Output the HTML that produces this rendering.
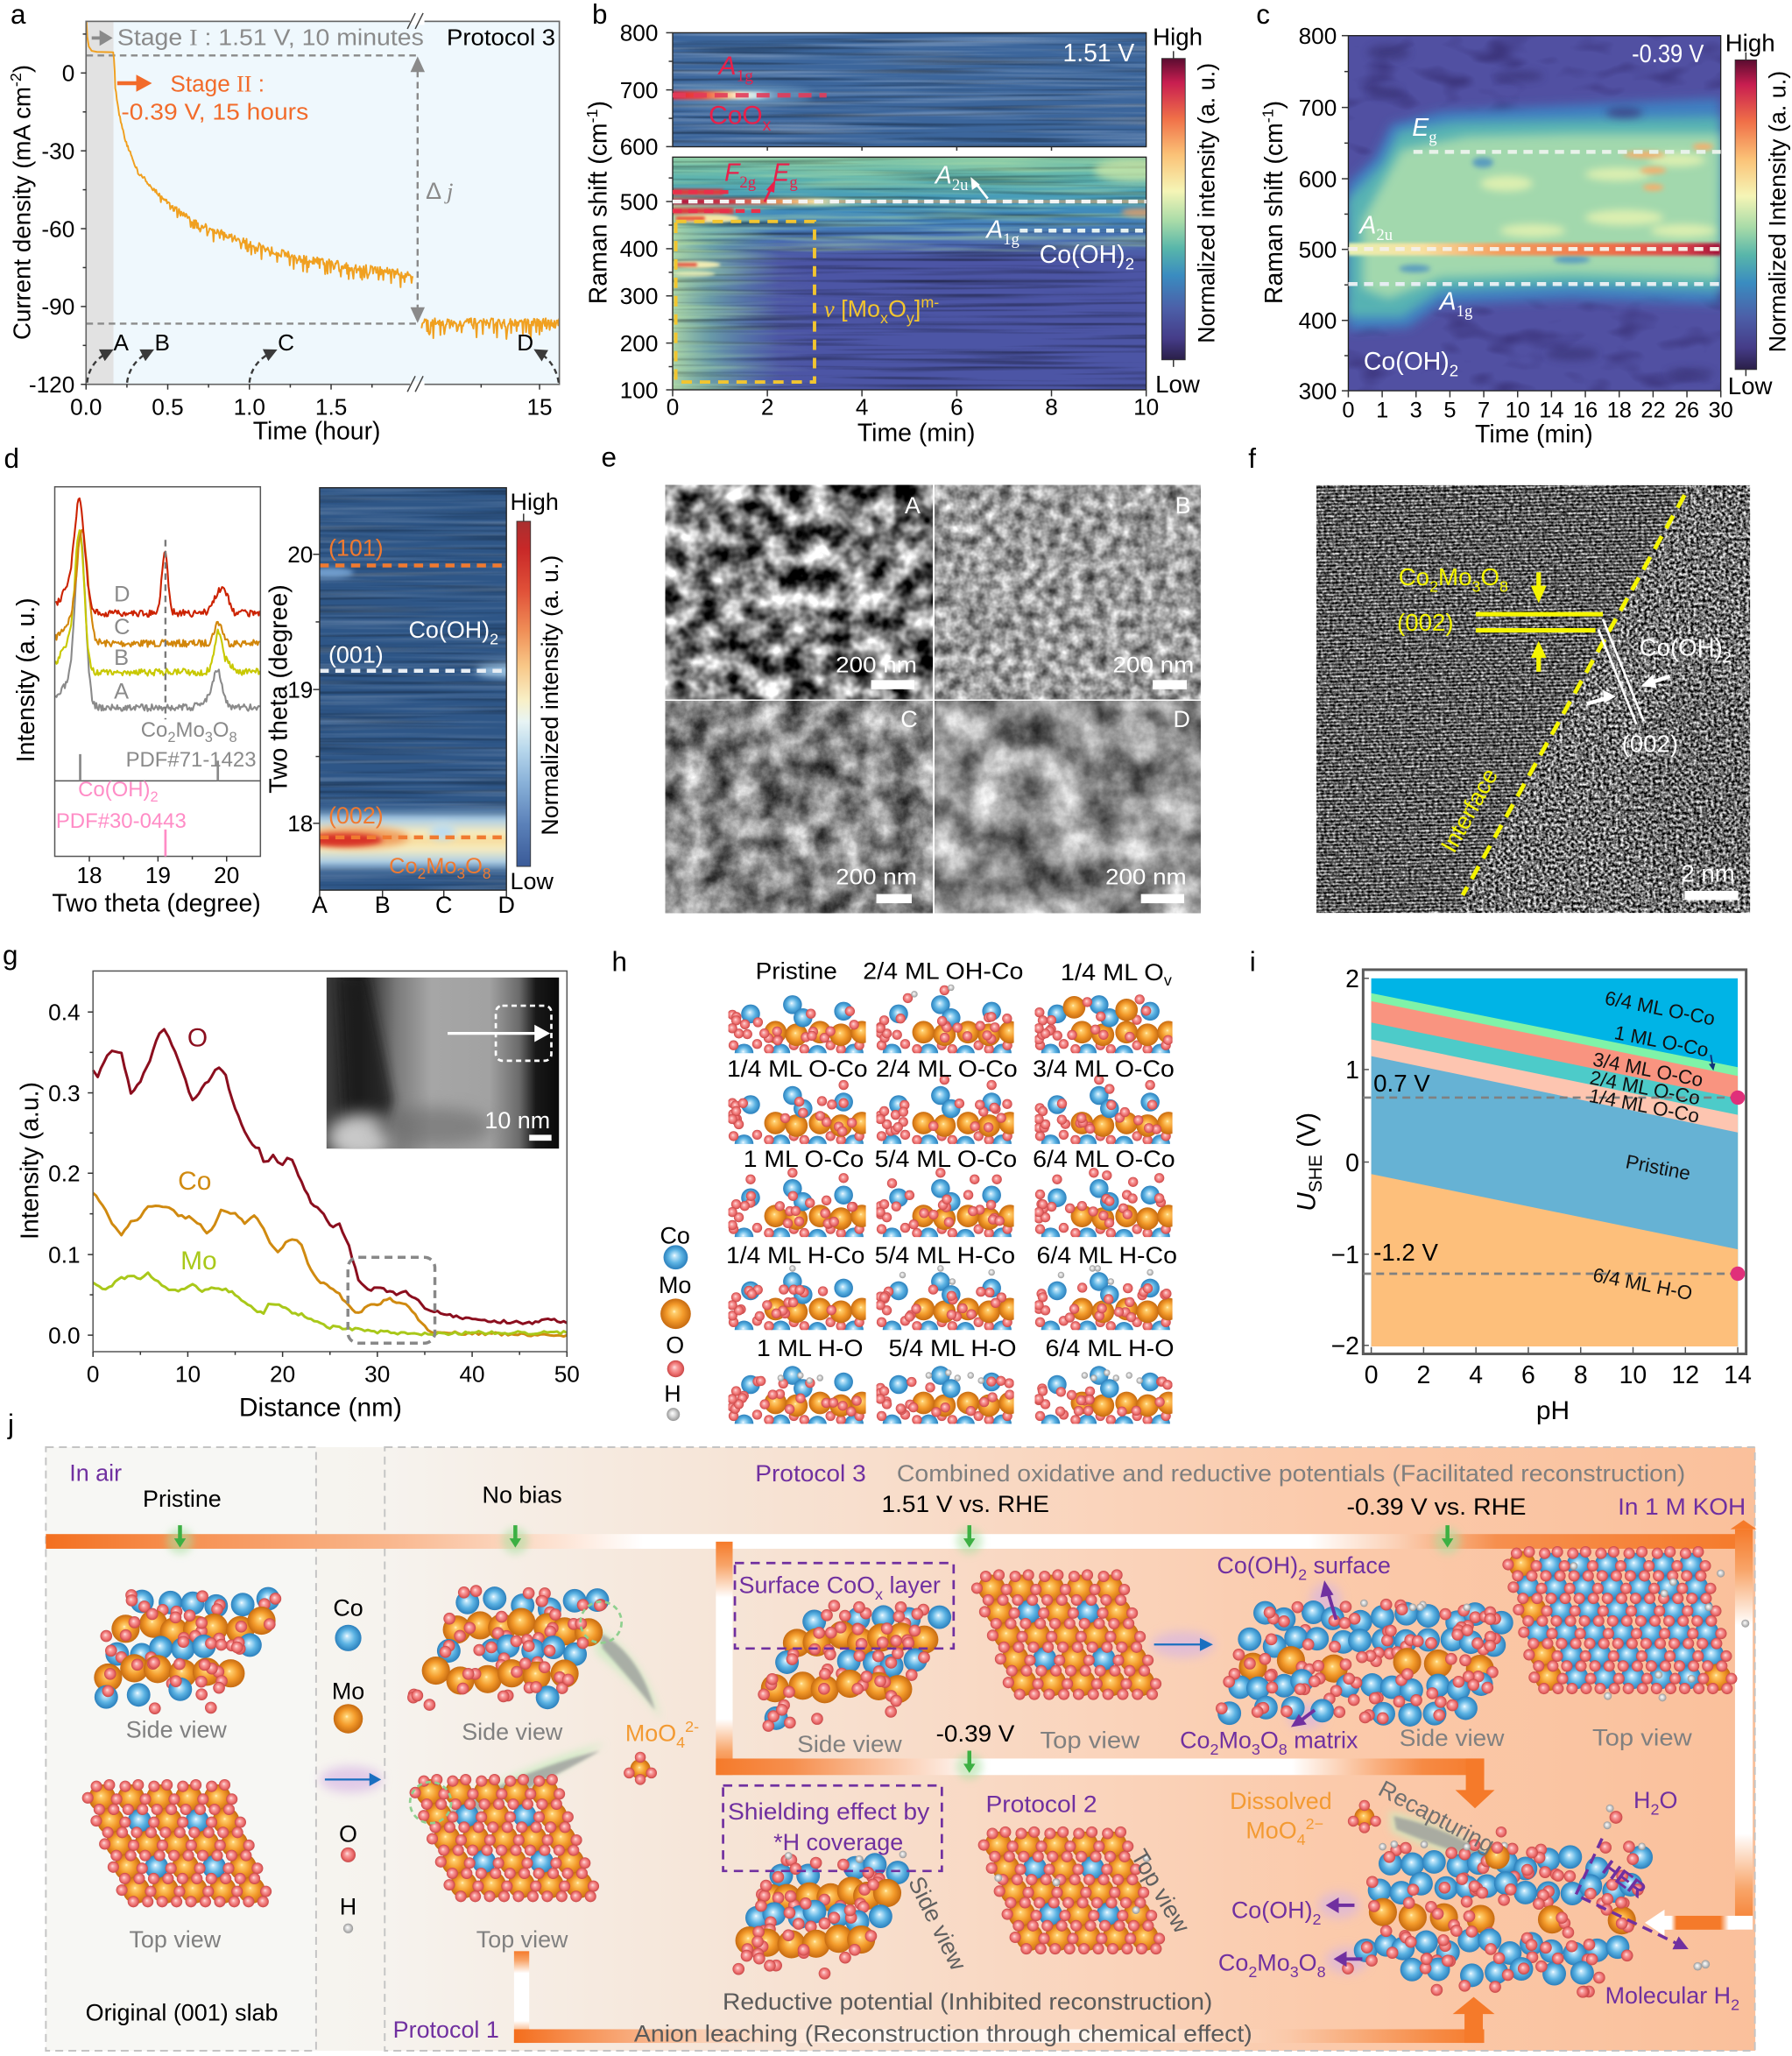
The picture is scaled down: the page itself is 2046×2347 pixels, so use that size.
<!DOCTYPE html>
<html><head><meta charset="utf-8"><title>figure</title>
<style>
html,body{margin:0;padding:0;background:#fff;width:2046px;height:2347px;overflow:hidden}
svg{display:block}
text{font-family:"Liberation Sans",Arial,sans-serif}
.sf{font-family:"Liberation Serif",serif}
</style></head><body>
<svg id="S" xmlns="http://www.w3.org/2000/svg" width="2046" height="2347" viewBox="0 0 1368 1569" preserveAspectRatio="none">
<defs id="defs">
<radialGradient id="gCo" cx=".5" cy=".5" r=".5" fx=".45" fy=".42"><stop offset="0" stop-color="#ffffff"/><stop offset=".12" stop-color="#c4e8fb"/><stop offset=".55" stop-color="#5cb3e3"/><stop offset="1" stop-color="#2a7fbc"/></radialGradient>
<radialGradient id="gMo" cx=".5" cy=".5" r=".5" fx=".45" fy=".42"><stop offset="0" stop-color="#fff6cc"/><stop offset=".12" stop-color="#ffcf6e"/><stop offset=".55" stop-color="#f39a2a"/><stop offset="1" stop-color="#c66a10"/></radialGradient>
<radialGradient id="gO" cx=".5" cy=".5" r=".5" fx=".42" fy=".4"><stop offset="0" stop-color="#ffe2e2"/><stop offset=".3" stop-color="#f8a0a0"/><stop offset=".7" stop-color="#ec6c6c"/><stop offset="1" stop-color="#c64646"/></radialGradient>
<radialGradient id="gH" cx=".5" cy=".5" r=".5" fx=".42" fy=".4"><stop offset="0" stop-color="#ffffff"/><stop offset=".45" stop-color="#d8d8d8"/><stop offset="1" stop-color="#959595"/></radialGradient>

<filter id="b1" x="-300%" y="-300%" width="700%" height="700%"><feGaussianBlur stdDeviation="1"/></filter>
<filter id="b2" x="-300%" y="-300%" width="700%" height="700%"><feGaussianBlur stdDeviation="2"/></filter>
<filter id="b3" x="-300%" y="-300%" width="700%" height="700%"><feGaussianBlur stdDeviation="3"/></filter>
<filter id="b4" x="-100%" y="-100%" width="300%" height="300%"><feGaussianBlur stdDeviation="4"/></filter>
<filter id="b6" x="-100%" y="-100%" width="300%" height="300%"><feGaussianBlur stdDeviation="6"/></filter>

<filter id="stD" x="0" y="0" width="1" height="1" color-interpolation-filters="sRGB"><feTurbulence type="fractalNoise" baseFrequency="0.006 0.3" numOctaves="2" seed="5"/><feColorMatrix type="matrix" values="0 0 0 0 0  0 0 0 0 0  0 0 0 0 0  -2.4 0 0 0 1.25"/></filter>
<filter id="stL" x="0" y="0" width="1" height="1" color-interpolation-filters="sRGB"><feTurbulence type="fractalNoise" baseFrequency="0.006 0.3" numOctaves="2" seed="9"/><feColorMatrix type="matrix" values="0 0 0 0 1  0 0 0 0 1  0 0 0 0 1  2.4 0 0 0 -1.05"/></filter>
<filter id="stG" x="0" y="0" width="1" height="1" color-interpolation-filters="sRGB"><feTurbulence type="fractalNoise" baseFrequency="0.01 0.25" numOctaves="2" seed="21"/><feColorMatrix type="matrix" values="0 0 0 0 .7  0 0 0 0 .88  0 0 0 0 .66  2.6 0 0 0 -1.05"/></filter>
<filter id="blobD" x="0" y="0" width="1" height="1" color-interpolation-filters="sRGB"><feTurbulence type="fractalNoise" baseFrequency="0.03 0.06" numOctaves="2" seed="31"/><feColorMatrix type="matrix" values="0 0 0 0 .2  0 0 0 0 .16  0 0 0 0 .42  -3 0 0 0 1.45"/></filter>

<filter id="semA" x="0" y="0" width="1" height="1" color-interpolation-filters="sRGB"><feTurbulence type="fractalNoise" baseFrequency="0.06" numOctaves="3" seed="11"/><feColorMatrix type="matrix" values="1.9 0 0 0 -0.46  1.9 0 0 0 -0.46  1.9 0 0 0 -0.46  0 0 0 0 1"/></filter>
<filter id="semB" x="0" y="0" width="1" height="1" color-interpolation-filters="sRGB"><feTurbulence type="fractalNoise" baseFrequency="0.11" numOctaves="3" seed="13"/><feColorMatrix type="matrix" values="1.05 0 0 0 0.09  1.05 0 0 0 0.09  1.05 0 0 0 0.09  0 0 0 0 1"/></filter>
<filter id="semC" x="0" y="0" width="1" height="1" color-interpolation-filters="sRGB"><feTurbulence type="fractalNoise" baseFrequency="0.05" numOctaves="5" seed="17"/><feColorMatrix type="matrix" values="1.15 0 0 0 -0.05  1.15 0 0 0 -0.05  1.15 0 0 0 -0.05  0 0 0 0 1"/></filter>
<filter id="semD" x="0" y="0" width="1" height="1" color-interpolation-filters="sRGB"><feTurbulence type="fractalNoise" baseFrequency="0.035" numOctaves="5" seed="19"/><feColorMatrix type="matrix" values="1.15 0 0 0 -0.01  1.15 0 0 0 -0.01  1.15 0 0 0 -0.01  0 0 0 0 1"/></filter>
<filter id="tem" x="0" y="0" width="1" height="1" color-interpolation-filters="sRGB"><feTurbulence type="fractalNoise" baseFrequency="0.45" numOctaves="2" seed="23"/><feColorMatrix type="matrix" values="2.0 0 0 0 -0.56  2.0 0 0 0 -0.56  2.0 0 0 0 -0.56  0 0 0 0 1"/></filter>
<pattern id="fringe" width="12" height="2.6" patternUnits="userSpaceOnUse" patternTransform="rotate(-1.5)"><rect width="12" height="1.1" fill="#000" opacity=".5"/><rect y="1.4" width="12" height=".8" fill="#fff" opacity=".35"/></pattern>

<linearGradient id="fadeR" x1="0" y1="0" x2="1" y2="0"><stop offset="0" stop-color="#fff"/><stop offset=".4" stop-color="#fff" stop-opacity=".7"/><stop offset="1" stop-color="#fff" stop-opacity="0"/></linearGradient>
<mask id="mLeft" maskUnits="userSpaceOnUse" x="513" y="119" width="363" height="180"><rect x="513.5" y="185" width="110" height="113" fill="url(#fadeR)"/></mask>

<linearGradient id="cbS" x1="0" y1="0" x2="0" y2="1"><stop offset="0" stop-color="#5a0c30"/><stop offset=".08" stop-color="#c81e50"/><stop offset=".2" stop-color="#f07048"/><stop offset=".32" stop-color="#fbc277"/><stop offset=".44" stop-color="#f5f5b6"/><stop offset=".54" stop-color="#a8dba8"/><stop offset=".63" stop-color="#58b6aa"/><stop offset=".72" stop-color="#3a8cc0"/><stop offset=".83" stop-color="#4c5fa8"/><stop offset=".93" stop-color="#453c88"/><stop offset="1" stop-color="#2a1f48"/></linearGradient>
<linearGradient id="cbD" x1="0" y1="0" x2="0" y2="1"><stop offset="0" stop-color="#a83030"/><stop offset=".08" stop-color="#c82828"/><stop offset=".2" stop-color="#e05038"/><stop offset=".32" stop-color="#f09058"/><stop offset=".42" stop-color="#f8c888"/><stop offset=".52" stop-color="#f8f0c8"/><stop offset=".58" stop-color="#e8f4f4"/><stop offset=".66" stop-color="#b8d8ec"/><stop offset=".76" stop-color="#88b0d8"/><stop offset=".88" stop-color="#5a80b8"/><stop offset="1" stop-color="#3a5a98"/></linearGradient>
<linearGradient id="bandB" gradientUnits="userSpaceOnUse" x1="513" y1="0" x2="605" y2="0"><stop offset="0" stop-color="#e01e3c"/><stop offset=".25" stop-color="#f04a3a"/><stop offset=".42" stop-color="#f8b070"/><stop offset=".56" stop-color="#fff4d8"/><stop offset=".72" stop-color="#bfe0ec"/><stop offset="1" stop-color="#3c669c" stop-opacity="0"/></linearGradient>
<linearGradient id="bLtop" x1="0" y1="0" x2="0" y2="1"><stop offset="0" stop-color="#86c9a6"/><stop offset=".2" stop-color="#5db3ae"/><stop offset=".45" stop-color="#3f93bd"/><stop offset=".7" stop-color="#4678b7"/><stop offset=".9" stop-color="#4c5ea9"/><stop offset="1" stop-color="#4c55a5"/></linearGradient>
<linearGradient id="bLleft" x1="0" y1="0" x2="1" y2="0"><stop offset="0" stop-color="#b4e0a8" stop-opacity=".9"/><stop offset=".35" stop-color="#7cc8aa" stop-opacity=".6"/><stop offset="1" stop-color="#5aaab4" stop-opacity="0"/></linearGradient>
<linearGradient id="b500" gradientUnits="userSpaceOnUse" x1="513" y1="0" x2="650" y2="0"><stop offset="0" stop-color="#b0103a"/><stop offset=".3" stop-color="#d03040"/><stop offset=".6" stop-color="#f09050"/><stop offset=".8" stop-color="#f8e0a0"/><stop offset="1" stop-color="#f8e0a0" stop-opacity="0"/></linearGradient>
<linearGradient id="c500" gradientUnits="userSpaceOnUse" x1="1029" y1="0" x2="1314" y2="0"><stop offset="0" stop-color="#e8f0b0"/><stop offset=".2" stop-color="#f8e0a0"/><stop offset=".4" stop-color="#f4a060"/><stop offset=".7" stop-color="#f07048"/><stop offset=".9" stop-color="#d84048"/><stop offset="1" stop-color="#a01038"/></linearGradient>
<linearGradient id="dband" x1="0" y1="0" x2="0" y2="1"><stop offset="0" stop-color="#2d5586" stop-opacity="0"/><stop offset=".22" stop-color="#a8cce8"/><stop offset=".4" stop-color="#f6ecc0"/><stop offset=".5" stop-color="#f8dc9c"/><stop offset=".62" stop-color="#f6ecc0"/><stop offset=".8" stop-color="#a8cce8"/><stop offset="1" stop-color="#2d5586" stop-opacity="0"/></linearGradient>
<linearGradient id="stem" x1="0" y1="0" x2="1" y2="0"><stop offset="0" stop-color="#3d3d3d"/><stop offset=".14" stop-color="#1c1c1c"/><stop offset=".3" stop-color="#7a7a7a"/><stop offset=".45" stop-color="#a6a6a6"/><stop offset=".7" stop-color="#a2a2a2"/><stop offset=".83" stop-color="#6a6a6a"/><stop offset=".9" stop-color="#181818"/><stop offset="1" stop-color="#0a0a0a"/></linearGradient>
<linearGradient id="jbg" gradientUnits="userSpaceOnUse" x1="35" y1="0" x2="1340" y2="0"><stop offset="0" stop-color="#f7f7f4"/><stop offset=".2" stop-color="#f6f3ee"/><stop offset=".38" stop-color="#f6e6d9"/><stop offset=".55" stop-color="#f9d9c4"/><stop offset=".75" stop-color="#fbcaab"/><stop offset="1" stop-color="#fac09b"/></linearGradient>
<linearGradient id="barTop" gradientUnits="userSpaceOnUse" x1="35" y1="0" x2="1338" y2="0"><stop offset="0" stop-color="#f36f1f"/><stop offset=".07" stop-color="#f68d4c"/><stop offset=".2" stop-color="#f9b68c"/><stop offset=".3" stop-color="#fde3d3"/><stop offset=".35" stop-color="#ffffff"/><stop offset=".74" stop-color="#ffffff"/><stop offset=".79" stop-color="#fbd2b8"/><stop offset=".85" stop-color="#f68f4e"/><stop offset="1" stop-color="#f57a2a"/></linearGradient>
<linearGradient id="barMid" gradientUnits="userSpaceOnUse" x1="546" y1="0" x2="1133" y2="0"><stop offset="0" stop-color="#f57a2a"/><stop offset=".1" stop-color="#f68f4e"/><stop offset=".3" stop-color="#fde8dc"/><stop offset=".34" stop-color="#ffffff"/><stop offset=".75" stop-color="#ffffff"/><stop offset=".86" stop-color="#f9b080"/><stop offset=".92" stop-color="#f68a44"/><stop offset="1" stop-color="#f57a2a"/></linearGradient>
<linearGradient id="barBot" gradientUnits="userSpaceOnUse" x1="392" y1="0" x2="1133" y2="0"><stop offset="0" stop-color="#f46d1c"/><stop offset=".06" stop-color="#f68e4f"/><stop offset=".2" stop-color="#fbd0b5"/><stop offset=".35" stop-color="#fff6f0"/><stop offset=".6" stop-color="#fff6f0"/><stop offset=".8" stop-color="#fac8a8"/><stop offset=".95" stop-color="#f68a44"/><stop offset="1" stop-color="#f57a2a"/></linearGradient>
<linearGradient id="barV" x1="0" y1="0" x2="0" y2="1"><stop offset="0" stop-color="#f57a2a"/><stop offset=".1" stop-color="#f8a468"/><stop offset=".24" stop-color="#ffffff"/><stop offset=".76" stop-color="#ffffff"/><stop offset=".9" stop-color="#f8a468"/><stop offset="1" stop-color="#f57a2a"/></linearGradient>
<linearGradient id="barBR" gradientUnits="userSpaceOnUse" x1="1255" y1="0" x2="1338" y2="0"><stop offset="0" stop-color="#ffffff"/><stop offset=".25" stop-color="#ffffff"/><stop offset=".3" stop-color="#f57a2a"/><stop offset=".7" stop-color="#f57a2a"/><stop offset=".78" stop-color="#ffffff"/><stop offset="1" stop-color="#ffffff"/></linearGradient>
<marker id="ah" viewBox="0 0 10 10" refX="7" refY="5" markerWidth="10" markerHeight="10" markerUnits="userSpaceOnUse" orient="auto"><path d="M0,0 L10,5 L0,10z" fill="#3a3a3a"/></marker>
<marker id="ahp" viewBox="0 0 10 10" refX="7" refY="5" markerWidth="11" markerHeight="11" markerUnits="userSpaceOnUse" orient="auto"><path d="M0,0 L10,5 L0,10z" fill="#7030a0"/></marker>
<clipPath id="cbU"><rect x="513.5" y="25" width="361.5" height="87"/></clipPath>
<clipPath id="cbL"><rect x="513.5" y="119.9" width="361.5" height="177.6"/></clipPath>
<clipPath id="cc"><rect x="1029.3" y="27.2" width="284.3" height="271"/></clipPath>
<clipPath id="cd"><rect x="244" y="372.2" width="142.6" height="307.1"/></clipPath>
<clipPath id="ctem"><rect x="1005" y="370.3" width="331" height="326.4"/></clipPath>
<clipPath id="cstem"><rect x="249.2" y="745.9" width="177.6" height="130.7"/></clipPath>
</defs>

<rect width="1368" height="1569" fill="#fff"/>

<g font-size="21">
<text x="8" y="18">a</text><text x="452" y="18">b</text><text x="959" y="18">c</text>
<text x="3" y="357">d</text><text x="459" y="356">e</text><text x="953" y="357">f</text>
<text x="2" y="736">g</text><text x="467" y="741">h</text><text x="954" y="741">i</text>
<text x="6" y="1094">j</text>
</g>

<!-- ===== panel a ===== -->
<g id="pa">
<rect x="65.7" y="16.3" width="361.3" height="277" fill="#eff8fd"/>
<rect x="65.7" y="16.3" width="20.9" height="277" fill="#e2e2e2"/>
<g stroke="#8a8a8a" stroke-width="1.6" stroke-dasharray="5 3.5" fill="none">
<line x1="66" y1="42.3" x2="318.8" y2="42.3"/><line x1="66" y1="247" x2="318.8" y2="247"/><line x1="318.8" y1="54" x2="318.8" y2="236"/>
</g>
<path d="M318.8,43 l-5.5,12 h11z M318.8,246.5 l-5.5,-12 h11z" fill="#8a8a8a"/>
<g id="pa_curve"></g>
<rect x="65.7" y="16.3" width="361.3" height="277" fill="none" stroke="#666" stroke-width="1.1"/>
<rect x="313" y="14" width="11" height="5" fill="#fff"/><rect x="313" y="291" width="11" height="5" fill="#fff"/>
<g stroke="#444" stroke-width="1"><line x1="311" y1="22" x2="317" y2="10"/><line x1="317" y1="22" x2="323" y2="10"/><line x1="311" y1="299" x2="317" y2="287"/><line x1="317" y1="299" x2="323" y2="287"/></g>
<path d="M70,29 h8" stroke="#8a8a8a" stroke-width="2.5"/><path d="M76,23 l10,6 l-10,6z" fill="#8a8a8a"/>
<text x="89.5" y="34.5" font-size="17.5" fill="#8a8a8a" textLength="234" lengthAdjust="spacingAndGlyphs">Stage <tspan class="sf">I</tspan> :  1.51 V, 10 minutes</text>
<text x="341" y="34.5" font-size="17.5" textLength="83" lengthAdjust="spacingAndGlyphs">Protocol 3</text>
<path d="M89.5,63.5 h16" stroke="#f26b2a" stroke-width="3"/><path d="M104,57 l12,6.5 l-12,6.5z" fill="#f26b2a"/>
<text x="130" y="70" font-size="17.5" fill="#f26b2a">Stage <tspan class="sf">II</tspan> :</text>
<text x="92.5" y="91.4" font-size="17.5" fill="#f26b2a" textLength="143" lengthAdjust="spacingAndGlyphs">-0.39 V, 15 hours</text>
<text x="325" y="151.6" font-size="18" fill="#8a8a8a">Δ <tspan class="sf" font-style="italic">j</tspan></text>
<g font-size="17.5"><text x="86.6" y="267.5">A</text><text x="118" y="267.5">B</text><text x="212" y="267.5">C</text><text x="394.7" y="267.5">D</text></g>
<g fill="none" stroke="#3a3a3a" stroke-width="1.6" stroke-dasharray="4 3" marker-end="url(#ah)">
<path d="M66.5,292 Q68,276 84,268"/><path d="M97,292 Q99,276 115,268"/><path d="M190.4,292 Q192,276 209,268"/><path d="M426.5,292 Q424,276 410,268"/>
</g>
<g font-size="17.5" text-anchor="end"><text x="57" y="61.9">0</text><text x="57" y="121.3">-30</text><text x="57" y="180.7">-60</text><text x="57" y="240.1">-90</text><text x="57" y="299.5">-120</text></g>
<g font-size="17.5" text-anchor="middle"><text x="65.7" y="316.4">0.0</text><text x="128" y="316.4">0.5</text><text x="190.4" y="316.4">1.0</text><text x="252.8" y="316.4">1.5</text><text x="411.9" y="316.4">15</text></g>
<text x="241.8" y="335.4" font-size="19" text-anchor="middle">Time (hour)</text>
<text transform="translate(23,154.4) rotate(-90)" font-size="18.5" text-anchor="middle">Current density (mA cm<tspan font-size="12" dy="-7">-2</tspan><tspan dy="7">)</tspan></text>
</g>

<!-- ===== panel b ===== -->
<g id="pb">
<g clip-path="url(#cbU)">
<rect x="513.5" y="25" width="361.5" height="87" fill="#3c669c"/>
<rect x="513.5" y="25" width="361.5" height="87" filter="url(#stD)" opacity=".45"/>
<rect x="513.5" y="25" width="361.5" height="87" filter="url(#stL)" opacity=".3"/>
<ellipse cx="560" cy="72.7" rx="60" ry="8" fill="#6a9ac0" filter="url(#b3)" opacity=".7"/>
<rect x="505" y="69.6" width="100" height="6.2" fill="url(#bandB)" filter="url(#b1)"/>
</g>
<g clip-path="url(#cbL)">
<rect x="513.5" y="119.9" width="361.5" height="177.6" fill="#4c55a5"/>
<rect x="513.5" y="119.9" width="361.5" height="80" fill="url(#bLtop)"/>
<rect x="513.5" y="150" width="82" height="147.5" fill="url(#bLleft)"/>
<rect x="513.5" y="119.9" width="361.5" height="177.6" filter="url(#stD)" opacity=".5"/>
<rect x="513.5" y="119.9" width="361.5" height="72" filter="url(#stG)" opacity=".45"/>
<g mask="url(#mLeft)"><rect x="513.5" y="185" width="110" height="113" filter="url(#stG)" opacity=".5"/></g>
<ellipse cx="865" cy="130" rx="30" ry="9" fill="#c8e6a8" filter="url(#b3)" opacity=".8"/>
<ellipse cx="870" cy="162" rx="14" ry="3" fill="#f0a060" filter="url(#b2)" opacity=".8"/>
<rect x="510" y="144.3" width="42" height="4.6" fill="#e23a3a" filter="url(#b1)"/>
<rect x="510" y="158.7" width="50" height="4.6" fill="#e23a3a" filter="url(#b1)"/>
<rect x="510" y="151.5" width="140" height="4.6" fill="url(#b500)" filter="url(#b1)"/>
<rect x="640" y="152.6" width="235" height="2.4" fill="#f0a060" opacity=".5"/>
<ellipse cx="540" cy="166.7" rx="24" ry="3.2" fill="#f6e4a4" filter="url(#b1)"/>
<rect x="516" y="165.2" width="22" height="3" fill="#e85030" filter="url(#b1)"/>
<ellipse cx="532" cy="202" rx="18" ry="2.5" fill="#f2ecb4" filter="url(#b1)"/>
<rect x="516" y="200.8" width="16" height="2.4" fill="#e04030" filter="url(#b1)"/>
<ellipse cx="530" cy="209" rx="16" ry="2" fill="#eef0b8" filter="url(#b1)" opacity=".8"/>
</g>
<rect x="513.5" y="25" width="361.5" height="87" fill="none" stroke="#222" stroke-width=".9"/>
<rect x="513.5" y="119.9" width="361.5" height="177.6" fill="none" stroke="#222" stroke-width=".9"/>
<line x1="513.5" y1="72.7" x2="631" y2="72.7" stroke="#e23c5a" stroke-width="3.5" stroke-dasharray="10 6" opacity=".9"/>
<line x1="513.5" y1="153.8" x2="875" y2="153.8" stroke="#f4f4f4" stroke-width="3" stroke-dasharray="7 5"/>
<line x1="513.5" y1="146.6" x2="556" y2="146.6" stroke="#e8304a" stroke-width="3" stroke-dasharray="7 5"/>
<line x1="513.5" y1="161" x2="583" y2="161" stroke="#e8304a" stroke-width="3" stroke-dasharray="7 5"/>
<line x1="778.5" y1="176" x2="875" y2="176" stroke="#e6f2f2" stroke-width="3" stroke-dasharray="6 5"/>
<rect x="515.9" y="169" width="105.9" height="122.5" fill="none" stroke="#f2c530" stroke-width="2.6" stroke-dasharray="8 6"/>
<path d="M583.6,154 L589,143" stroke="#e8204a" stroke-width="1.8"/><path d="M592,137 l-7,8 l6,2z" fill="#e8204a"/>
<path d="M754,151.5 L745,140" stroke="#fff" stroke-width="1.8"/><path d="M741,135 l1,10 l6,-4z" fill="#fff"/>
<text x="811.4" y="46.8" font-size="19" fill="#fff" textLength="54.6" lengthAdjust="spacingAndGlyphs">1.51 V</text>
<text x="548.7" y="56.8" fill="#e8204a" font-size="20"><tspan font-style="italic">A</tspan><tspan class="sf" font-size="13" dy="5">1g</tspan></text>
<text x="541" y="94.7" fill="#e8204a" font-size="20">CoO<tspan font-size="13" dy="5">x</tspan></text>
<text x="553" y="138" fill="#e8204a" font-size="19"><tspan font-style="italic">F</tspan><tspan class="sf" font-size="12.5" dy="5">2g</tspan></text>
<text x="590" y="138" fill="#e8204a" font-size="19"><tspan font-style="italic">E</tspan><tspan class="sf" font-size="12.5" dy="5">g</tspan></text>
<text x="714" y="140" fill="#fff" font-size="19"><tspan font-style="italic">A</tspan><tspan class="sf" font-size="12.5" dy="5">2u</tspan></text>
<text x="753" y="181.6" fill="#fff" font-size="19"><tspan font-style="italic">A</tspan><tspan class="sf" font-size="12.5" dy="5">1g</tspan></text>
<text x="793.5" y="200.6" fill="#fff" font-size="19">Co(OH)<tspan font-size="12.5" dy="5">2</tspan></text>
<text x="629" y="241.8" fill="#f2c530" font-size="18"><tspan class="sf" font-style="italic">v</tspan> [Mo<tspan font-size="12" dy="5">x</tspan><tspan dy="-5">O</tspan><tspan font-size="12" dy="5">y</tspan><tspan dy="-5">]</tspan><tspan font-size="12" dy="-7">m-</tspan></text>
<rect x="886.9" y="44.6" width="17.9" height="230" fill="url(#cbS)" stroke="#333" stroke-width=".6"/>
<line x1="895.8" y1="39" x2="895.8" y2="44.6" stroke="#333"/><line x1="895.8" y1="274.6" x2="895.8" y2="280" stroke="#333"/>
<text x="880" y="34.5" font-size="18.5">High</text><text x="882" y="299.6" font-size="18.5">Low</text>
<text transform="translate(927,155) rotate(-90)" font-size="18" text-anchor="middle">Normalized intensity (a. u.)</text>
<g font-size="17.5" text-anchor="end"><text x="502.4" y="31.2">800</text><text x="502.4" y="74.8">700</text><text x="502.4" y="118.1">600</text><text x="502.4" y="160">500</text><text x="502.4" y="196">400</text><text x="502.4" y="232">300</text><text x="502.4" y="268">200</text><text x="502.4" y="303.7">100</text></g>
<g font-size="17.5" text-anchor="middle"><text x="513.5" y="316.4">0</text><text x="585.8" y="316.4">2</text><text x="658" y="316.4">4</text><text x="730.4" y="316.4">6</text><text x="802.7" y="316.4">8</text><text x="875" y="316.4">10</text></g>
<text x="699.5" y="336.5" font-size="19" text-anchor="middle">Time (min)</text>
<text transform="translate(463,154.5) rotate(-90)" font-size="19" text-anchor="middle">Raman shift (cm<tspan font-size="12" dy="-7">-1</tspan><tspan dy="7">)</tspan></text>
</g>

<!-- ===== panel c ===== -->
<g id="pc">
<g clip-path="url(#cc)">
<rect x="1029.3" y="27.2" width="284.3" height="271" fill="#5150a2"/>
<rect x="1029.3" y="27.2" width="284.3" height="271" filter="url(#blobD)" opacity=".7"/>
<path d="M1029,140 L1050,120 L1062,95 L1100,85 L1200,80 L1313,75 L1313,232 L1200,228 L1100,232 L1075,250 L1029,252Z" fill="#3f7fc1" filter="url(#b4)"/>
<path d="M1029,152 L1055,125 L1068,100 L1110,93 L1200,91 L1313,89 L1313,222 L1200,218 L1100,222 L1070,242 L1029,242Z" fill="#56b2b3" filter="url(#b4)"/>
<path d="M1040,168 L1070,114 L1120,104 L1200,102 L1313,102 L1313,212 L1200,209 L1100,212 L1060,228 L1040,220Z" fill="#a2d8ad" filter="url(#b4)"/>
<g fill="#dcefb0" filter="url(#b3)"><ellipse cx="1150" cy="140" rx="20" ry="6"/><ellipse cx="1235" cy="133" rx="25" ry="5"/><ellipse cx="1280" cy="122" rx="22" ry="5"/><ellipse cx="1240" cy="166" rx="30" ry="6"/><ellipse cx="1170" cy="176" rx="25" ry="5"/><ellipse cx="1285" cy="176" rx="25" ry="5"/></g>
<g fill="#f6ae6c" filter="url(#b2)"><ellipse cx="1255" cy="118" rx="16" ry="2.5"/><ellipse cx="1262" cy="130" rx="10" ry="2.5"/><ellipse cx="1262" cy="143" rx="8" ry="2.5"/><ellipse cx="1300" cy="112" rx="8" ry="2.5"/></g>
<g fill="#4a8ec2" filter="url(#b2)" opacity=".8"><ellipse cx="1132" cy="124" rx="8" ry="4"/><ellipse cx="1200" cy="198" rx="14" ry="3"/><ellipse cx="1080" cy="205" rx="12" ry="3"/></g>
<rect x="1029" y="185.5" width="285" height="9.5" fill="url(#c500)" filter="url(#b1)"/>
<g fill="#3b3478" filter="url(#b3)" opacity=".7"><ellipse cx="1060" cy="40" rx="16" ry="6"/><ellipse cx="1058" cy="70" rx="12" ry="4"/><ellipse cx="1160" cy="58" rx="18" ry="4"/><ellipse cx="1240" cy="86" rx="14" ry="4"/><ellipse cx="1200" cy="270" rx="20" ry="5"/><ellipse cx="1290" cy="285" rx="18" ry="4"/></g>
</g>
<rect x="1029.3" y="27.2" width="284.3" height="271" fill="none" stroke="#222" stroke-width=".9"/>
<line x1="1079" y1="115.9" x2="1313.6" y2="115.9" stroke="#e8f2ea" stroke-width="3" stroke-dasharray="7 5"/>
<line x1="1029.3" y1="190" x2="1313.6" y2="190" stroke="#f4efe6" stroke-width="3" stroke-dasharray="7 5"/>
<line x1="1029.3" y1="216.8" x2="1313.6" y2="216.8" stroke="#e6eef2" stroke-width="3" stroke-dasharray="7 5"/>
<text x="1245.7" y="47.5" font-size="19" fill="#fff" textLength="55" lengthAdjust="spacingAndGlyphs">-0.39 V</text>
<text x="1078" y="103.6" fill="#fff" font-size="19"><tspan font-style="italic">E</tspan><tspan class="sf" font-size="12.5" dy="5">g</tspan></text>
<text x="1038" y="178.3" fill="#fff" font-size="19"><tspan font-style="italic">A</tspan><tspan class="sf" font-size="12.5" dy="5">2u</tspan></text>
<text x="1099" y="236.2" fill="#fff" font-size="19"><tspan font-style="italic">A</tspan><tspan class="sf" font-size="12.5" dy="5">1g</tspan></text>
<text x="1041" y="282" fill="#fff" font-size="19">Co(OH)<tspan font-size="12.5" dy="5">2</tspan></text>
<rect x="1324.6" y="45.7" width="16.4" height="236.3" fill="url(#cbS)" stroke="#333" stroke-width=".6"/>
<line x1="1332.8" y1="40" x2="1332.8" y2="45.7" stroke="#333"/><line x1="1332.8" y1="282" x2="1332.8" y2="287" stroke="#333"/>
<text x="1317" y="39" font-size="18.5">High</text><text x="1319" y="300.9" font-size="18.5">Low</text>
<text transform="translate(1363,161.5) rotate(-90)" font-size="18" text-anchor="middle">Normalized Intensity (a. u.)</text>
<g font-size="17.5" text-anchor="end"><text x="1020.5" y="33.4">800</text><text x="1020.5" y="88.2">700</text><text x="1020.5" y="142.6">600</text><text x="1020.5" y="196.5">500</text><text x="1020.5" y="250.7">400</text><text x="1020.5" y="304.4">300</text></g>
<g font-size="17" text-anchor="middle"><text x="1029.3" y="318.7">0</text><text x="1055.2" y="318.7">1</text><text x="1081" y="318.7">3</text><text x="1106.9" y="318.7">5</text><text x="1132.7" y="318.7">7</text><text x="1158.6" y="318.7">10</text><text x="1184.4" y="318.7">14</text><text x="1210.3" y="318.7">16</text><text x="1236.1" y="318.7">18</text><text x="1262" y="318.7">22</text><text x="1287.8" y="318.7">26</text><text x="1313.6" y="318.7">30</text></g>
<text x="1171" y="337.7" font-size="19" text-anchor="middle">Time (min)</text>
<text transform="translate(979,154.4) rotate(-90)" font-size="19" text-anchor="middle">Raman shift (cm<tspan font-size="12" dy="-7">-1</tspan><tspan dy="7">)</tspan></text>
</g>

<!-- ===== panel d ===== -->
<g id="pd">
<g id="pd_curves"></g>
<line x1="126.3" y1="412" x2="126.3" y2="549" stroke="#7a7a7a" stroke-width="1.6" stroke-dasharray="5 3.5"/>
<rect x="41.8" y="371.5" width="157" height="282" fill="none" stroke="#555" stroke-width="1"/>
<line x1="41.8" y1="595.9" x2="198.8" y2="595.9" stroke="#555" stroke-width="1"/>
<line x1="61.2" y1="575.5" x2="61.2" y2="595.9" stroke="#888" stroke-width="1.8"/>
<line x1="166.3" y1="580.5" x2="166.3" y2="595.9" stroke="#888" stroke-width="1.8"/>
<line x1="126.3" y1="633" x2="126.3" y2="653.5" stroke="#ff8cc6" stroke-width="1.8"/>
<g font-size="17" fill="#8a8a8a"><text x="87" y="459">D</text><text x="87" y="484">C</text><text x="87" y="507.5">B</text><text x="87" y="533">A</text></g>
<text x="107.5" y="562.3" fill="#8a8a8a" font-size="16">Co<tspan font-size="11" dy="4">2</tspan><tspan dy="-4">Mo</tspan><tspan font-size="11" dy="4">3</tspan><tspan dy="-4">O</tspan><tspan font-size="11" dy="4">8</tspan></text>
<text x="96" y="585" fill="#8a8a8a" font-size="16">PDF#71-1423</text>
<text x="59.6" y="607.8" fill="#ff8cc6" font-size="16">Co(OH)<tspan font-size="11" dy="4">2</tspan></text>
<text x="42.7" y="631.8" fill="#ff8cc6" font-size="16">PDF#30-0443</text>
<g font-size="17.5" text-anchor="middle"><text x="68.2" y="674">18</text><text x="120.6" y="674">19</text><text x="173" y="674">20</text></g>
<text x="119.4" y="695.5" font-size="19" text-anchor="middle">Two theta (degree)</text>
<text transform="translate(26,519) rotate(-90)" font-size="19" text-anchor="middle">Intensity (a. u.)</text>

<g clip-path="url(#cd)">
<rect x="244" y="372.2" width="142.6" height="307.1" fill="#2e5687"/>
<rect x="244" y="372.2" width="142.6" height="307.1" filter="url(#stD)" opacity=".35"/>
<rect x="244" y="372.2" width="142.6" height="307.1" filter="url(#stL)" opacity=".18"/>
<ellipse cx="252" cy="437" rx="18" ry="4" fill="#6f9ccc" filter="url(#b2)"/>
<ellipse cx="388" cy="512" rx="25" ry="5" fill="#9cc4e4" filter="url(#b3)"/>
<rect x="240" y="612" width="150" height="58" fill="url(#dband)" filter="url(#b2)"/>
<ellipse cx="272" cy="639" rx="40" ry="8" fill="#f0a060" filter="url(#b3)"/>
<ellipse cx="262" cy="641" rx="30" ry="5" fill="#d83028" filter="url(#b2)"/>
<ellipse cx="338" cy="635" rx="10" ry="6" fill="#bcdcf0" filter="url(#b3)"/>
</g>
<line x1="244" y1="431.5" x2="386.6" y2="431.5" stroke="#f07a30" stroke-width="3" stroke-dasharray="7 5"/>
<line x1="244" y1="511.9" x2="386.6" y2="511.9" stroke="#e8eef4" stroke-width="3" stroke-dasharray="7 5"/>
<line x1="244" y1="639" x2="386.6" y2="639" stroke="#f07a30" stroke-width="3" stroke-dasharray="7 5"/>
<rect x="244" y="372.2" width="142.6" height="307.1" fill="none" stroke="#222" stroke-width=".9"/>
<text x="250.7" y="424.3" font-size="18" fill="#f07a30">(101)</text>
<text x="250.7" y="505.9" font-size="18" fill="#fff">(001)</text>
<text x="311.9" y="486.8" font-size="18" fill="#fff">Co(OH)<tspan font-size="12" dy="5">2</tspan></text>
<text x="250.7" y="628.3" font-size="18" fill="#f07a30">(002)</text>
<text x="297" y="666.6" font-size="17" fill="#f07a30">Co<tspan font-size="11.5" dy="4">2</tspan><tspan dy="-4">Mo</tspan><tspan font-size="11.5" dy="4">3</tspan><tspan dy="-4">O</tspan><tspan font-size="11.5" dy="4">8</tspan></text>
<g font-size="17.5" text-anchor="end"><text x="238.9" y="429.2">20</text><text x="238.9" y="532.4">19</text><text x="238.9" y="634.5">18</text></g>
<g font-size="18" text-anchor="middle"><text x="244" y="696.7">A</text><text x="292" y="696.7">B</text><text x="338.8" y="696.7">C</text><text x="386.6" y="696.7">D</text></g>
<text transform="translate(219,525.8) rotate(-90)" font-size="19" text-anchor="middle">Two theta (degree)</text>
<rect x="394.5" y="397.8" width="10.5" height="263.4" fill="url(#cbD)" stroke="#333" stroke-width=".6"/>
<line x1="399.7" y1="392" x2="399.7" y2="397.8" stroke="#333"/>
<text x="389.5" y="389" font-size="18">High</text><text x="389.5" y="678.7" font-size="18">Low</text>
<text transform="translate(426,530.6) rotate(-90)" font-size="18" text-anchor="middle">Normalized intensity (a. u.)</text>
</g>

<!-- ===== panel e ===== -->
<g id="pe">
<rect x="508" y="370.3" width="204" height="163.2" filter="url(#semA)"/>
<rect x="713.5" y="370.3" width="203" height="163.2" filter="url(#semB)"/>
<rect x="508" y="535" width="204" height="161.7" filter="url(#semC)"/>
<rect x="713.5" y="535" width="203" height="161.7" filter="url(#semD)"/>
<g fill="#fff" font-size="18"><text x="690.6" y="391.8">A</text><text x="897" y="391.8">B</text><text x="687.5" y="555">C</text><text x="895.6" y="555">D</text></g>
<g fill="#fff" font-size="17"><text x="638" y="513" textLength="62" lengthAdjust="spacingAndGlyphs">200 nm</text><text x="849.5" y="513" textLength="62" lengthAdjust="spacingAndGlyphs">200 nm</text><text x="638" y="675" textLength="62" lengthAdjust="spacingAndGlyphs">200 nm</text><text x="843.8" y="675" textLength="62" lengthAdjust="spacingAndGlyphs">200 nm</text></g>
<g fill="#fff"><rect x="665" y="519" width="33" height="7"/><rect x="880" y="519" width="26" height="7"/><rect x="669" y="682.3" width="27" height="7"/><rect x="871" y="682.3" width="33" height="7"/></g>
</g>

<!-- ===== panel f ===== -->
<g id="pf">
<g clip-path="url(#ctem)">
<rect x="1005" y="370.3" width="331" height="326.4" filter="url(#tem)"/>
<polygon points="1005,370.3 1290,370.3 1113,696.7 1005,696.7" fill="url(#fringe)"/>
<polygon points="1005,370.3 1290,370.3 1113,696.7 1005,696.7" fill="#000" opacity=".08"/>
<ellipse cx="1300" cy="600" rx="50" ry="80" fill="#000" opacity=".06" filter="url(#b6)"/>
</g>
<line x1="1286" y1="377.8" x2="1116.6" y2="683.1" stroke="#f5f500" stroke-width="3.2" stroke-dasharray="11 7"/>
<g stroke="#f5f500" stroke-width="3.3"><line x1="1126.6" y1="468.7" x2="1223.6" y2="468.7"/><line x1="1126.6" y1="481" x2="1218" y2="481"/></g>
<path d="M1174.6,436.7 v12" stroke="#f5f500" stroke-width="3.5"/><path d="M1168.6,447 h12 l-6,13.2z" fill="#f5f500"/>
<path d="M1174.6,512.6 v-12" stroke="#f5f500" stroke-width="3.5"/><path d="M1168.6,502 h12 l-6,-12.8z" fill="#f5f500"/>
<g stroke="#fff" stroke-width="1.8"><line x1="1223.6" y1="472.5" x2="1254.8" y2="550.5"/><line x1="1220.2" y1="480.3" x2="1249.2" y2="552.7"/></g>
<path d="M1274.9,516 L1260,521" stroke="#fff" stroke-width="3"/><path d="M1252.6,523.8 l9,-9 l3,10z" fill="#fff"/>
<path d="M1211.3,537.1 L1226,533" stroke="#fff" stroke-width="3"/><path d="M1233.6,531.5 l-10,-5 l1,10z" fill="#fff"/>
<text x="1067.6" y="446.7" font-size="18.5" fill="#f5f500">Co<tspan font-size="12" dy="5">2</tspan><tspan dy="-5">Mo</tspan><tspan font-size="12" dy="5">3</tspan><tspan dy="-5">O</tspan><tspan font-size="12" dy="5">8</tspan></text>
<text x="1066.5" y="481.4" font-size="18.5" fill="#f5f500">(002)</text>
<text x="1251.4" y="500.4" font-size="18.5" fill="#fff">Co(OH)<tspan font-size="12" dy="5">2</tspan></text>
<text x="1238" y="573.9" font-size="18.5" fill="#fff">(002)</text>
<text transform="translate(1110,652) rotate(-61)" font-size="18" fill="#f5f500">Interface</text>
<text x="1283.3" y="673" font-size="18.5" fill="#fff">2 nm</text>
<rect x="1286" y="679.8" width="41" height="7.1" fill="#fff"/>
</g>

<!-- ===== panel g ===== -->
<g id="pg">
<g clip-path="url(#cstem)">
<rect x="249.2" y="745.9" width="177.6" height="130.7" fill="url(#stem)"/>
<path d="M258,745 L280,745 L300,840 L290,877 L265,877 Z" fill="#1a1a1a" filter="url(#b4)" opacity=".8"/>
<ellipse cx="275" cy="868" rx="25" ry="18" fill="#c8c8c8" filter="url(#b6)"/>
<ellipse cx="330" cy="860" rx="45" ry="15" fill="#6a6a6a" filter="url(#b6)" opacity=".6"/>
</g>
<rect x="378.5" y="767.5" width="42.4" height="42" rx="5" fill="none" stroke="#fff" stroke-width="1.8" stroke-dasharray="4 3"/>
<path d="M341.7,788.6 H410" stroke="#fff" stroke-width="2.2"/><path d="M408,782 l12,6.6 l-12,6.6z" fill="#fff"/>
<text x="370" y="861" font-size="18" fill="#fff">10 nm</text>
<rect x="404" y="866" width="17" height="4.5" fill="#fff"/>
<g id="pg_curves"></g>
<rect x="265.6" y="959.5" width="66.4" height="65.5" rx="8" fill="none" stroke="#888" stroke-width="2.3" stroke-dasharray="6 4"/>
<rect x="71" y="741" width="361.8" height="290.5" fill="none" stroke="#555" stroke-width="1"/>
<text x="143" y="798.7" font-size="20" fill="#8b0e1e">O</text>
<text x="135.8" y="908" font-size="20" fill="#d08a10">Co</text>
<text x="137.8" y="968.6" font-size="20" fill="#a9c81a">Mo</text>
<g font-size="17.5" text-anchor="end"><text x="61.2" y="1025.1">0.0</text><text x="61.2" y="963.6">0.1</text><text x="61.2" y="901.5">0.2</text><text x="61.2" y="840.2">0.3</text><text x="61.2" y="778.5">0.4</text></g>
<g font-size="17.5" text-anchor="middle"><text x="71" y="1054.5">0</text><text x="143.4" y="1054.5">10</text><text x="215.7" y="1054.5">20</text><text x="288" y="1054.5">30</text><text x="360.4" y="1054.5">40</text><text x="432.8" y="1054.5">50</text></g>
<text x="244.7" y="1080.6" font-size="20" text-anchor="middle">Distance (nm)</text>
<text transform="translate(29,885.8) rotate(-90)" font-size="19" text-anchor="middle">Intensity (a.u.)</text>
</g>

<!-- ===== panel h ===== -->
<g id="ph"></g>
<g id="phText" font-size="18">
<text x="576.8" y="747" textLength="62.3" lengthAdjust="spacingAndGlyphs">Pristine</text>
<text x="658.8" y="747" textLength="122.4" lengthAdjust="spacingAndGlyphs">2/4 ML OH-Co</text>
<text x="809.6" y="748" textLength="78.9" lengthAdjust="spacingAndGlyphs">1/4 ML O</text><text x="888.5" y="752" font-size="12">v</text>
<text x="555" y="821.5" textLength="107.3" lengthAdjust="spacingAndGlyphs">1/4 ML O-Co</text>
<text x="668.6" y="821.5" textLength="108.1" lengthAdjust="spacingAndGlyphs">2/4 ML O-Co</text>
<text x="788.4" y="821.5" textLength="108.1" lengthAdjust="spacingAndGlyphs">3/4 ML O-Co</text>
<text x="567.5" y="890.4" textLength="91.9" lengthAdjust="spacingAndGlyphs">1 ML O-Co</text>
<text x="667.7" y="890.4" textLength="108.7" lengthAdjust="spacingAndGlyphs">5/4 ML O-Co</text>
<text x="788.4" y="890.4" textLength="108.7" lengthAdjust="spacingAndGlyphs">6/4 ML O-Co</text>
<text x="554.4" y="964" textLength="105.8" lengthAdjust="spacingAndGlyphs">1/4 ML H-Co</text>
<text x="667.7" y="964" textLength="107.3" lengthAdjust="spacingAndGlyphs">5/4 ML H-Co</text>
<text x="791.3" y="964" textLength="107.3" lengthAdjust="spacingAndGlyphs">6/4 ML H-Co</text>
<text x="577.7" y="1035" textLength="81.2" lengthAdjust="spacingAndGlyphs">1 ML H-O</text>
<text x="678.3" y="1035" textLength="97.7" lengthAdjust="spacingAndGlyphs">5/4 ML H-O</text>
<text x="798" y="1035" textLength="98.3" lengthAdjust="spacingAndGlyphs">6/4 ML H-O</text>
<g text-anchor="middle"><text x="515.3" y="948.8">Co</text><text x="515.3" y="986.8">Mo</text><text x="515.3" y="1032.6">O</text><text x="513.5" y="1069.6">H</text></g>
</g>
<circle cx="515.8" cy="959.5" r="9.3" fill="url(#gCo)"/>
<circle cx="515.8" cy="1002.6" r="11.6" fill="url(#gMo)"/>
<circle cx="515.8" cy="1044.6" r="6.5" fill="url(#gO)"/>
<circle cx="514" cy="1079.4" r="5" fill="url(#gH)"/>

<!-- ===== panel i ===== -->
<g id="pi">
<rect x="1046.8" y="746.6" width="279.8" height="280.9" fill="#00b4e6"/>
<polygon points="1046.8,757.9 1326.6,814.4 1326.6,1027.5 1046.8,1027.5" fill="#7ff3a8"/>
<polygon points="1046.8,764 1326.6,821.1 1326.6,1027.5 1046.8,1027.5" fill="#f99480"/>
<polygon points="1046.8,780.3 1326.6,838.3 1326.6,1027.5 1046.8,1027.5" fill="#4dcbc9"/>
<polygon points="1046.8,793.2 1326.6,850.8 1326.6,1027.5 1046.8,1027.5" fill="#fdc5b0"/>
<polygon points="1046.8,806 1326.6,864.2 1326.6,1027.5 1046.8,1027.5" fill="#66b2d4"/>
<polygon points="1046.8,896 1326.6,953.4 1326.6,1027.5 1046.8,1027.5" fill="#fdbf7b"/>
<rect x="1040.6" y="740" width="292.4" height="293.2" fill="none" stroke="#5a5a5a" stroke-width="2"/>
<line x1="1040.6" y1="837.6" x2="1326.6" y2="837.6" stroke="#808080" stroke-width="1.8" stroke-dasharray="6 4"/>
<line x1="1040.6" y1="972" x2="1326.6" y2="972" stroke="#808080" stroke-width="1.8" stroke-dasharray="6 4"/>
<circle cx="1326.6" cy="837.6" r="5.5" fill="#e0307a"/><circle cx="1326.6" cy="972" r="5.5" fill="#e0307a"/>
<text x="1048.5" y="833" font-size="18.5">0.7 V</text>
<text x="1048.5" y="962" font-size="18.5">-1.2 V</text>
<g font-size="15" fill="#111">
<text transform="translate(1224.4,766.3) rotate(11)">6/4 ML O-Co</text>
<text transform="translate(1231.7,792.7) rotate(11)">1 ML O-Co</text>
<text transform="translate(1215.3,813.1) rotate(11)">3/4 ML O-Co</text>
<text transform="translate(1213,827) rotate(11)">2/4 ML O-Co</text>
<text transform="translate(1212.4,840.7) rotate(11)">1/4 ML O-Co</text>
<text transform="translate(1240.3,891.1) rotate(11)">Pristine</text>
<text transform="translate(1215.3,977.5) rotate(11)">6/4 ML H-O</text>
</g>
<path d="M1306,805 L1307.5,814" stroke="#10307a" stroke-width="1.3"/><path d="M1304.5,812 l3.5,5 l1.5,-5.5z" fill="#10307a"/>
<g font-size="19" text-anchor="end"><text x="1037.7" y="753.5">2</text><text x="1037.7" y="823.1">1</text><text x="1037.7" y="893.7">0</text><text x="1037.7" y="964">−1</text><text x="1037.7" y="1033.6">−2</text></g>
<g font-size="19" text-anchor="middle"><text x="1046.8" y="1055.5">0</text><text x="1086.8" y="1055.5">2</text><text x="1126.7" y="1055.5">4</text><text x="1166.7" y="1055.5">6</text><text x="1206.7" y="1055.5">8</text><text x="1246.6" y="1055.5">10</text><text x="1286.6" y="1055.5">12</text><text x="1326.6" y="1055.5">14</text></g>
<text x="1185.5" y="1083" font-size="20" text-anchor="middle">pH</text>
<text transform="translate(1004,886.7) rotate(-90)" font-size="20" text-anchor="middle"><tspan font-style="italic">U</tspan><tspan font-size="14" dy="5">SHE</tspan><tspan dy="-5">  (V)</tspan></text>
</g>

<!-- ===== panel j ===== -->
<g id="pj">
<rect x="35" y="1104.4" width="1305" height="460.6" fill="url(#jbg)"/>
<rect x="35" y="1104.4" width="206.3" height="460.6" fill="#f7f7f4"/>
<rect x="35" y="1104.4" width="206.3" height="460.6" fill="none" stroke="#c4c4c4" stroke-width="1.3" stroke-dasharray="6 4"/>
<rect x="293.7" y="1104.4" width="1046" height="460.6" fill="none" stroke="#c4c4c4" stroke-width="1.3" stroke-dasharray="6 4"/>
<rect x="35" y="1170.7" width="1290" height="11.2" fill="url(#barTop)"/>
<rect x="1324.5" y="1167" width="13.5" height="305.6" fill="url(#barV)"/>
<path d="M1321,1167 l10,-7 l10,7z" fill="#f57a2a"/>
<rect x="1270" y="1462" width="68" height="10.6" fill="url(#barBR)"/>
<path d="M1255.7,1467.3 l15,-10 v20z" fill="#fff"/>
<rect x="546.5" y="1176.5" width="12.8" height="178" fill="url(#barV)"/>
<rect x="546.5" y="1342" width="586.5" height="12.6" fill="url(#barMid)"/>
<rect x="1119" y="1342" width="14" height="25" fill="#f57a2a"/>
<path d="M1111,1366 h30 l-15,14z" fill="#f57a2a"/>
<rect x="392.4" y="1489" width="11.6" height="70" fill="url(#barV)"/>
<rect x="392.4" y="1548.6" width="740.6" height="10.4" fill="url(#barBot)"/>
<rect x="1118" y="1535" width="14" height="24" fill="#f57a2a"/>
<path d="M1109,1537 h32 l-16,-13z" fill="#f57a2a"/>

<g id="jglow">
<g fill="#a8e0a0" opacity=".55" filter="url(#b3)"><circle cx="137.4" cy="1176" r="10"/><circle cx="393.4" cy="1176" r="10"/><circle cx="740" cy="1176" r="10"/><circle cx="1105" cy="1176" r="10"/><circle cx="740" cy="1348" r="10"/></g>
<g fill="#d6b4e4" opacity=".65" filter="url(#b4)"><ellipse cx="268" cy="1358" rx="24" ry="10"/><ellipse cx="903" cy="1255" rx="24" ry="10"/><ellipse cx="1012" cy="1222" rx="12" ry="14"/><ellipse cx="997" cy="1310" rx="14" ry="10"/><ellipse cx="1022" cy="1454" rx="16" ry="10"/><ellipse cx="1028" cy="1496" rx="16" ry="10"/></g>
<g fill="#c8ecc0" opacity=".7" filter="url(#b3)"><path d="M452,1240 Q490,1260 505,1312 Q485,1285 455,1262Z"/><path d="M335,1385 Q400,1345 462,1330 Q420,1360 340,1395Z"/><path d="M1060,1382 Q1110,1392 1155,1428 Q1110,1420 1062,1398Z"/></g>
<g fill="#9a9a9a" opacity=".75" filter="url(#b1)"><path d="M458,1246 Q488,1262 500,1305 Q482,1282 460,1258Z"/><path d="M342,1383 Q400,1350 458,1336 Q418,1360 346,1390Z"/><path d="M1064,1386 Q1110,1396 1150,1424 Q1108,1414 1066,1396Z"/></g>
</g>
<g id="jatoms"></g>
<g fill="#3cb043"><path d="M135.9,1164 h3 v10 h3 l-4.5,7 l-4.5,-7 h3z"/><path d="M391.9,1164 h3 v10 h3 l-4.5,7 l-4.5,-7 h3z"/><path d="M738.5,1164 h3 v10 h3 l-4.5,7 l-4.5,-7 h3z"/><path d="M1103.5,1164 h3 v10 h3 l-4.5,7 l-4.5,-7 h3z"/><path d="M738.5,1336 h3 v10 h3 l-4.5,7 l-4.5,-7 h3z"/></g>
<path d="M248,1358 H284" stroke="#1a6fc0" stroke-width="1.5"/><path d="M282,1353 l9,5 l-9,5z" fill="#1a6fc0"/>
<path d="M881,1255 H918" stroke="#1a6fc0" stroke-width="1.5"/><path d="M916,1250 l10,5 l-10,5z" fill="#1a6fc0"/>
<circle cx="458.8" cy="1238" r="15.7" fill="none" stroke="#8fd08f" stroke-width="1.8" stroke-dasharray="4 3"/>
<circle cx="328.7" cy="1375.6" r="15.7" fill="none" stroke="#8fd08f" stroke-width="1.8" stroke-dasharray="4 3"/>
<rect x="561" y="1192.8" width="167" height="65.2" fill="none" stroke="#7030a0" stroke-width="1.8" stroke-dasharray="7 5"/>
<rect x="552" y="1362.6" width="167" height="65.2" fill="none" stroke="#7030a0" stroke-width="1.8" stroke-dasharray="7 5"/>
<g stroke="#7030a0" stroke-width="2.6" fill="#7030a0">
<path d="M1020,1236 L1014,1216" fill="none"/><path d="M1011,1206 l-3,13 l10,-2z" stroke="none"/>
<path d="M1003.6,1305 L993,1313" fill="none"/><path d="M985.5,1318 l12,-2 l-6,-8z" stroke="none"/>
<path d="M1034,1454 H1020" fill="none"/><path d="M1012,1454 l10,-6 v12z" stroke="none"/>
<path d="M1040,1495 H1026" fill="none"/><path d="M1018,1495 l10,-6 v12z" stroke="none"/>
</g>
<path d="M1223,1403 L1203,1446 L1286,1486" fill="none" stroke="#7030a0" stroke-width="2.3" stroke-dasharray="8 5" marker-end="url(#ahp)"/>

<g font-size="18">
<text x="53" y="1130" fill="#7030a0">In air</text>
<text x="139" y="1150" text-anchor="middle">Pristine</text>
<text x="398.6" y="1146.7" text-anchor="middle">No bias</text>
<text x="134.6" y="1326" fill="#808080" text-anchor="middle">Side view</text>
<text x="133.6" y="1486" fill="#808080" text-anchor="middle">Top view</text>
<text x="138.8" y="1542" text-anchor="middle">Original (001) slab</text>
<text x="265.8" y="1233" text-anchor="middle">Co</text><text x="265.8" y="1296.5" text-anchor="middle">Mo</text><text x="265.8" y="1405.5" text-anchor="middle">O</text><text x="265.8" y="1461" text-anchor="middle">H</text>
<text x="391" y="1327.6" fill="#808080" text-anchor="middle">Side view</text>
<text x="477.3" y="1328.6" fill="#f39a32">MoO<tspan font-size="12" dy="5">4</tspan><tspan font-size="12" dy="-12">2-</tspan></text>
<text x="398.6" y="1486" fill="#808080" text-anchor="middle">Top view</text>
<text x="300" y="1555" fill="#7030a0">Protocol 1</text>
<text x="484" y="1558" fill="#5a5a5a" textLength="472" lengthAdjust="spacingAndGlyphs">Anion leaching (Reconstruction through chemical effect)</text>
<text x="576.5" y="1130.6" fill="#7030a0" textLength="84.6" lengthAdjust="spacingAndGlyphs">Protocol 3</text>
<text x="684.6" y="1130.6" fill="#7f7f7f" textLength="602" lengthAdjust="spacingAndGlyphs">Combined oxidative and reductive potentials (Facilitated reconstruction)</text>
<text x="673" y="1153.7" textLength="128" lengthAdjust="spacingAndGlyphs">1.51 V vs. RHE</text>
<text x="1028" y="1156" textLength="137" lengthAdjust="spacingAndGlyphs">-0.39 V vs. RHE</text>
<text x="1235" y="1156" fill="#7030a0" textLength="97.7" lengthAdjust="spacingAndGlyphs">In 1 M KOH</text>
<text x="564" y="1215.6" fill="#7030a0">Surface CoO<tspan font-size="12" dy="5">x</tspan><tspan dy="-5"> layer</tspan></text>
<text x="608.5" y="1337" fill="#808080" textLength="80" lengthAdjust="spacingAndGlyphs">Side view</text>
<text x="714.5" y="1329" textLength="60" lengthAdjust="spacingAndGlyphs">-0.39 V</text>
<text x="794" y="1334" fill="#808080" textLength="76" lengthAdjust="spacingAndGlyphs">Top view</text>
<text x="929" y="1200.8" fill="#7030a0">Co(OH)<tspan font-size="12" dy="5">2</tspan><tspan dy="-5">  surface</tspan></text>
<text x="900.7" y="1334" fill="#7030a0">Co<tspan font-size="12" dy="5">2</tspan><tspan dy="-5">Mo</tspan><tspan font-size="12" dy="5">3</tspan><tspan dy="-5">O</tspan><tspan font-size="12" dy="5">8</tspan><tspan dy="-5"> matrix</tspan></text>
<text x="1068.3" y="1332.4" fill="#808080" textLength="80" lengthAdjust="spacingAndGlyphs">Side view</text>
<text x="1215.6" y="1332" fill="#808080" textLength="76" lengthAdjust="spacingAndGlyphs">Top view</text>
<text x="555.6" y="1388.4" fill="#7030a0" textLength="154" lengthAdjust="spacingAndGlyphs">Shielding effect by</text>
<text x="640" y="1411.8" fill="#7030a0" text-anchor="middle">*H coverage</text>
<text x="752.5" y="1382.8" fill="#7030a0" textLength="85" lengthAdjust="spacingAndGlyphs">Protocol 2</text>
<text transform="translate(693,1436) rotate(63.6)" fill="#606060">Side view</text>
<text transform="translate(863,1416) rotate(59.7)" fill="#606060">Top view</text>
<text x="551.6" y="1533.5" fill="#5a5a5a" textLength="374" lengthAdjust="spacingAndGlyphs">Reductive potential (Inhibited reconstruction)</text>
<text x="938.8" y="1380.4" fill="#f39a32">Dissolved</text>
<text x="951" y="1402.8" fill="#f39a32">MoO<tspan font-size="12" dy="5">4</tspan><tspan font-size="12" dy="-12">2−</tspan></text>
<text transform="translate(1051,1369) rotate(28)" fill="#707070">Recapturing</text>
<text x="1247" y="1379.8" fill="#7030a0">H<tspan font-size="12" dy="5">2</tspan><tspan dy="-5">O</tspan></text>
<text transform="translate(1222,1428) rotate(36)" fill="#7030a0" font-weight="bold" font-size="17">HER</text>
<text x="1225.3" y="1529" fill="#7030a0">Molecular H<tspan font-size="12" dy="5">2</tspan></text>
<text x="940" y="1463.6" fill="#7030a0">Co(OH)<tspan font-size="12" dy="5">2</tspan></text>
<text x="930" y="1503.8" fill="#7030a0">Co<tspan font-size="12" dy="5">2</tspan><tspan dy="-5">Mo</tspan><tspan font-size="12" dy="5">3</tspan><tspan dy="-5">O</tspan><tspan font-size="12" dy="5">8</tspan></text>
</g>
</g>
<g id="ticks"></g>
</svg>
<script>
(function(){
var NS='http://www.w3.org/2000/svg';
function G(id){return document.getElementById(id);}
function el(p,t,a){var e=document.createElementNS(NS,t);for(var k in a)e.setAttribute(k,a[k]);p.appendChild(e);return e;}
function rng(s){return function(){s=(s*16807)%2147483647;return (s-1)/2147483646;};}
function line(g,x1,y1,x2,y2,c,w){el(g,'line',{x1:x1,y1:y1,x2:x2,y2:y2,stroke:c||'#333','stroke-width':w||1});}
function path(g,d,c,w){return el(g,'path',{d:d,fill:'none',stroke:c,'stroke-width':w,'stroke-linejoin':'round'});}
var RAD={Co:7.2,Mo:8.6,O:3.8,H:2.5};
function A(g,x,y,t,k){el(g,'circle',{cx:x.toFixed(1),cy:y.toFixed(1),r:(RAD[t]*(k||1)).toFixed(2),fill:'url(#g'+t+')'});}

var tk=G('ticks');
function tY(x,ys,l){ys.forEach(function(y){line(tk,x,y,x-l,y,'#333',1);});}
function tX(y,xs,l){xs.forEach(function(x){line(tk,x,y,x,y+l,'#333',1);});}
tY(65.7,[55.7,115.1,174.5,233.9,293.3],4);tY(65.7,[26,85.4,144.8,204.2,263.6],2.5);
tX(293.3,[65.7,128.05,190.4,252.75,411.9],4);tX(293.3,[96.9,159.2,221.6,284,367.3],2.5);
tY(513.5,[25,68.6,111.9],5);tY(513.5,[46.8,90.3],3);
tY(513.5,[153.8,189.8,225.8,261.8,297.5],5);tY(513.5,[135.8,171.8,207.8,243.8,279.8],3);
tX(297.5,[513.5,585.8,658,730.4,802.7,875],5);tX(112,[585.8,658,730.4,802.7],3);
tY(1029.3,[27.2,82,136.4,190.3,244.5,298.2],5);tY(1029.3,[54.6,109.2,163.4,217.4,271.4],3);
var cx=[];for(var i=0;i<12;i++)cx.push(1029.3+i*25.85);tX(298.2,cx,5);
tX(653.5,[68.2,120.6,173],4);tX(653.5,[94.4,146.8],2.5);
tY(244,[423,526.2,628.3],5);tY(244,[474.6,577.3],3);
tX(679.3,[244,292,338.8,386.6],5);
tY(71,[1018.9,957.4,895.3,834,772.3],4);tY(71,[988.1,926.3,864.6,803.1],2.5);
var gx=[];for(var i=0;i<=5;i++)gx.push(71+i*72.36);tX(1031.5,gx,4);
var gx2=[];for(var i=0;i<5;i++)gx2.push(71+36.18+i*72.36);tX(1031.5,gx2,2.5);
for(var i=0;i<=7;i++)line(tk,1046.8+i*39.97,1033.2,1046.8+i*39.97,1028,'#555',1);
[746.6,816.2,886.8,957.1,1026.7].forEach(function(y){line(tk,1040.6,y,1045,y,'#555',1);});

(function(){
 var ga=G('pa_curve');
 var Y=function(j){return 55.7-j*1.98;};
 var P=[[0.172,-2],[0.179,-5.7],[0.2,-15],[0.24,-26],[0.311,-37.2],[0.4,-44],[0.5,-50],[0.668,-57.5],[0.9,-63.5],[1.149,-68.7],[1.35,-71.8],[1.628,-74.3],[1.986,-77.7]];
 function J(t){for(var i=1;i<P.length;i++){if(t<=P[i][0]){var a=P[i-1],b=P[i],f=(t-a[0])/(b[0]-a[0]);return a[1]+(b[1]-a[1])*f;}}return P[P.length-1][1];}
 var r=rng(12345);
 var d='M66,16.5 L66.6,28 L67.8,35.5 L70,38.8 L74,39.6 L86.4,39.9 L87,45 L87.6,55';
 for(var x=88;x<=315.5;x+=0.6){var t=(x-65.7)/124.7;var s=Math.min(1,(t-0.17)/0.8);var n=(r()-0.5)*1.8*(0.5+s);if(r()<0.3)n-=r()*5*s+0.5*s;d+=' L'+x.toFixed(1)+','+Y(J(t)+n).toFixed(1);}
 path(ga,d,'#f0a020',1.3);
 var d2='';
 for(var x=321.8;x<=427;x+=0.6){var n=(r()-0.5)*3+1.5;if(r()<0.35)n-=r()*6;d2+=(d2?' L':'M')+x.toFixed(1)+','+Y(-97.5+n).toFixed(1);}
 path(ga,d2,'#f0a020',1.3);
})();

(function(){
 var g=G('pd_curves');
 function xrd(base,pk,col,sd){var r=rng(sd),d='';for(var x=42.3;x<=198.5;x+=0.8){var deg=17.5+(x-42)/52.4,y=base;pk.forEach(function(p){y-=p[1]*Math.exp(-Math.pow((deg-p[0])/p[2],2)/2);});y+=(r()-0.5)*5.5;d+=(d?'L':'M')+x.toFixed(1)+','+y.toFixed(1);}path(g,d,col,1.4);}
 xrd(540,[[17.87,122,0.07],[17.72,18,0.15],[19.87,24,0.06],[19.78,8,0.12]],'#8a8a8a',3);
 xrd(513,[[17.86,100,0.065],[17.7,22,0.12],[19.87,24,0.05],[19.95,9,0.1]],'#c8c800',5);
 xrd(491,[[17.9,78,0.075],[17.75,16,0.15],[19.88,16,0.06]],'#d2860a',7);
 xrd(468,[[17.86,70,0.07],[17.75,22,0.15],[19.1,46,0.045],[19.9,17,0.08],[20.0,7,0.05]],'#cc2200',9);
})();

(function(){
 var g=G('pg_curves');
 var X=function(v){return 71+v*7.236;},Y=function(v){return 1018.9-v*616.5;};
 function cur(data,col,sd){var r=rng(sd),d='';for(var i=0;i<data.length-1;i++){var a=data[i],b=data[i+1];var n=Math.max(1,Math.round((b[0]-a[0])/0.35));for(var k=0;k<n;k++){var f=k/n,x=a[0]+(b[0]-a[0])*f,y=a[1]+(b[1]-a[1])*f+(r()-0.5)*0.004;d+=(d?'L':'M')+X(x).toFixed(1)+','+Y(y).toFixed(1);}}var l=data[data.length-1];d+='L'+X(l[0]).toFixed(1)+','+Y(l[1]).toFixed(1);path(g,d,col,2);}
 cur([[0,0.33],[0.5,0.32],[1.5,0.345],[2,0.35],[3,0.348],[4,0.3],[5,0.315],[6,0.34],[7,0.375],[7.5,0.38],[8,0.37],[9,0.34],[10.5,0.29],[11.5,0.305],[12.5,0.32],[13.3,0.333],[14,0.32],[15,0.28],[16,0.25],[16.5,0.24],[17.5,0.23],[18,0.215],[18.5,0.215],[19,0.222],[19.5,0.215],[20,0.21],[20.5,0.218],[21,0.215],[22,0.19],[23,0.165],[24,0.155],[25,0.135],[26,0.137],[27,0.11],[28,0.07],[29,0.055],[30,0.06],[31,0.055],[32,0.05],[33,0.055],[34,0.045],[35,0.035],[36,0.03],[38,0.023],[40,0.02],[42,0.017],[45,0.016],[47,0.015],[48,0.022],[49,0.018],[50,0.015]],'#8b0e1e',41);
 cur([[0,0.178],[1,0.16],[2,0.14],[3,0.125],[4,0.14],[5,0.145],[5.8,0.16],[7,0.158],[8,0.16],[8.5,0.155],[9,0.147],[10.5,0.145],[11,0.14],[12,0.128],[12.5,0.13],[13.5,0.155],[14.5,0.15],[15,0.152],[16,0.14],[17,0.15],[18,0.13],[19,0.108],[19.5,0.103],[20,0.11],[21,0.12],[21.5,0.117],[22,0.11],[23,0.08],[24,0.065],[25,0.06],[26,0.05],[27,0.035],[28,0.027],[29,0.037],[30,0.038],[31,0.045],[32,0.042],[33,0.04],[34,0.025],[35,0.01],[36,0.003],[40,0.002],[50,0.0]],'#d08a10',43);
 cur([[0,0.067],[1,0.057],[2,0.062],[3,0.07],[4,0.075],[5,0.068],[5.8,0.078],[6.5,0.07],[8,0.055],[9,0.055],[10,0.058],[10.5,0.062],[11.5,0.055],[12.5,0.058],[14,0.057],[15,0.05],[16,0.04],[17,0.032],[18,0.028],[18.5,0.037],[20,0.036],[21,0.027],[22,0.025],[23,0.02],[24,0.015],[25,0.01],[27,0.008],[30,0.004],[35,0.001],[40,0.003],[50,0.003]],'#a9c81a',47);
})();

(function(){
 var gh=G('ph'),defs=G('defs'),cid=0;
 function thumb(x0,y0,sd,ads){
  var r=rng(sd),id='ct'+(cid++);
  var cp=el(defs,'clipPath',{id:id});el(cp,'rect',{x:x0,y:y0-14,width:105,height:61});
  var g=el(gh,'g',{'clip-path':'url(#'+id+')'});
  [[12,47],[40,47],[68,48],[96,47]].forEach(function(p){A(g,x0+p[0],y0+p[1],'Co');});
  [[4,41],[22,40],[31,44],[50,41],[58,44],[78,41],[86,44],[100,41]].forEach(function(p){A(g,x0+p[0],y0+p[1],'O');});
  [[36,31],[52,33],[70,31],[86,33],[102,31]].forEach(function(p){A(g,x0+p[0],y0+p[1],'Mo');});
  [[17,17],[49,10],[57,20],[88,15]].forEach(function(p){A(g,x0+p[0],y0+p[1],'Co');});
  for(var k=0;k<18;k++)A(g,x0+3+r()*100,y0+14+r()*24,'O');
  [[6,22],[8,32],[3,28]].forEach(function(p){A(g,x0+p[0],y0+p[1],'O');});
  ads.forEach(function(a){A(g,x0+a[0],y0+a[1],a[2]);});
 }
 var cols=[556,669,790],rows=[756.7,826,897,968,1039.6];
 var AD=[
  [[],[[24,5,'O'],[29,2,'H'],[52,-1,'O'],[57,-3,'H']],[[30,12,'Mo'],[70,14,'Mo'],[40,8,'O'],[80,6,'O']]],
  [[[88,2,'O']],[[52,-2,'O'],[88,2,'O']],[[49,-2,'O'],[57,5,'O'],[88,2,'O']]],
  [[[17,3,'O'],[49,-2,'O'],[88,2,'O']],[[12,6,'O'],[49,-2,'O'],[75,3,'O'],[92,3,'O']],[[17,3,'O'],[45,-2,'O'],[55,0,'O'],[75,5,'O'],[95,2,'O']]],
  [[[49,0,'H']],[[20,5,'H'],[49,0,'H'],[58,10,'H'],[88,3,'H']],[[20,5,'H'],[44,0,'H'],[48,0,'H'],[58,10,'H'],[88,3,'H']]],
  [[[40,12,'H'],[55,10,'H'],[62,14,'H'],[70,12,'H']],[[40,10,'H'],[55,8,'H'],[62,12,'H'],[72,10,'H'],[80,14,'H']],[[38,10,'H'],[45,12,'H'],[55,8,'H'],[62,12,'H'],[72,10,'H'],[80,14,'H']]]
 ];
 for(var i=0;i<5;i++)for(var j=0;j<3;j++)thumb(cols[j],rows[i],100+i*7+j*3,AD[i][j]);
})();

(function(){
 var g=G('jatoms');
 function slab(x0,y0,w,h,sd,L,sh,od){
  var r=rng(sd),n=L.length,ww=w-sh*(n-1);
  for(var i=0;i<n;i++){
   var l=L[i],y=y0+(i+0.5)*h/n,off=(n-1-i)*sh,st=ww/l.n;
   for(var k=0;k<l.n;k++){if(r()>(l.p||1))continue;A(g,x0+off+(k+0.5)*st+(r()-.5)*st*.3,y+(r()-.5)*h/n*.5,l.t,l.k||1.25);}
   var no=Math.round(l.n*(od||1.7));
   for(var k=0;k<no;k++)A(g,x0+off+r()*ww,y+(r()-.5)*h/n*1.2,'O',1.2);
   for(var k=0;k<(l.h||0);k++)A(g,x0+off+r()*ww,y-h/n*.55+(r()-.5)*4,'H',1.15);
  }
 }
 function topv(x0,y0,nr,nc,a,sh,co,sd,hN){
  var r=rng(sd),P=[];
  for(var i=0;i<nr;i++)for(var j=0;j<nc;j++)P.push([x0+j*a+i*sh,y0+i*a*.8,co(i,j,r)?'Co':'Mo']);
  P.forEach(function(p){A(g,p[0],p[1],p[2],p[2]=='Co'?1.25:1.2);});
  P.forEach(function(p){A(g,p[0]+a*.5,p[1]+1,'O',1.15);A(g,p[0]+a*.25+sh*.5,p[1]+a*.4,'O',1.15);A(g,p[0]-a*.25+sh*.5,p[1]+a*.4,'O',1.15);});
  for(var i=0;i<nr;i++)A(g,x0+i*sh-a*.5,y0+i*a*.8,'O',1.15);
  for(var j=0;j<nc;j++){A(g,x0+j*a-a*.2,y0-a*.4,'O',1.15);A(g,x0+j*a+a*.25,y0-a*.45,'O',1.15);}
  for(var k=0;k<(hN||0);k++)A(g,x0+r()*(nc*a+nr*sh),y0+r()*nr*a*.8,'H',1.2);
 }
 function mo4(x,y){A(g,x,y,'Mo',.9);A(g,x,y-9,'O',1.1);A(g,x-8.5,y+3,'O',1.1);A(g,x+8.5,y+3,'O',1.1);A(g,x,y+8,'O',1.1);}
 var PL=[{t:'Co',n:6,p:.85},{t:'Mo',n:7},{t:'Co',n:7,p:.9},{t:'Mo',n:6},{t:'Co',n:4,p:.6}];
 slab(63,1215,152,87,11,PL,9);
 slab(314,1215,152,90,23,PL,9);
 slab(574,1224,150,92,37,[{t:'Co',n:6,p:.9},{t:'Mo',n:7},{t:'Co',n:7,p:.9},{t:'Mo',n:6},{t:'Co',n:4,p:.6}],9,2);
 slab(552,1418,144,90,41,[{t:'Co',n:6,p:.9,h:4},{t:'Mo',n:7},{t:'Co',n:7,p:.9},{t:'Mo',n:6},{t:'Co',n:4,p:.6}],9);
 slab(930,1226,226,87,53,[{t:'Co',n:11,p:.9,h:5},{t:'Co',n:12,p:.9},{t:'Mo',n:7,p:.85},{t:'Co',n:12,p:.9},{t:'Co',n:9,p:.8}],6,1.8);
 slab(1027,1410,234,108,67,[{t:'Co',n:12,p:.9,h:6},{t:'Co',n:13,p:.9},{t:'Mo',n:8,p:.85},{t:'Co',n:13,p:.9},{t:'Co',n:10,p:.8}],6,1.8);
 var coP=function(i,j){return i%2==1&&j%2==1;};
 topv(78,1372,5,5,22,6.5,coP,71);
 topv(328,1368,5,5,22,6.5,coP,83);
 topv(757,1212,5,5,22.5,6,coP,97);
 topv(762,1408,5,5,22,6,coP,101,4);
 topv(1162,1194,6,7,21.5,4,function(i,j,r){return r()>0.1;},113,10);
 mo4(488.8,1350);mo4(1041.6,1386.8);
 A(g,1143,1417,'Mo',1.1);A(g,1143,1410,'O',1.2);A(g,1146,1398,'O',1.1);
 A(g,1233.6,1386.8,'O',1.3);A(g,1229,1380,'H',1.2);A(g,1227,1393,'H',1.2);
 A(g,1296,1500.6,'H',1.3);A(g,1302,1499,'H',1.3);
 A(g,265.8,1250,'Co',1.4);A(g,265.8,1311.6,'Mo',1.3);A(g,265.8,1415.5,'O',1.5);A(g,265.8,1471.6,'H',1.5);
})();
})();
</script>
</body></html>
